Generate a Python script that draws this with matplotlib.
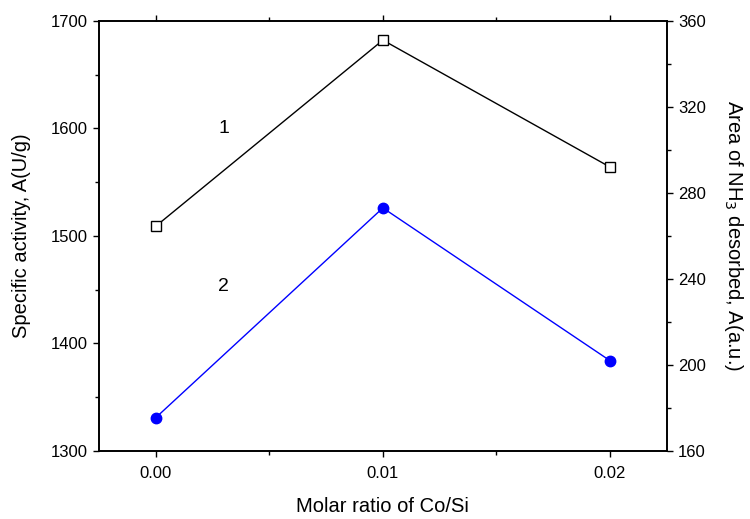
import matplotlib
matplotlib.use("Agg")
import matplotlib.pyplot as plt
from matplotlib.ticker import MultipleLocator

plt.rcParams["font.family"] = ["Liberation Sans", "DejaVu Sans"]

ratio = [0.00, 0.01, 0.02]
activity = [1509, 1682, 1564]
nh3_area = [175.5, 273, 202]

fig = plt.figure(figsize=(7.5, 5.19), dpi=100)
ax = fig.add_axes([0.132, 0.131, 0.757, 0.829])
ax.plot(ratio, activity, color="black", lw=1, marker="s", ms=6.5,
        mfc="white", mec="black", mew=1)
ax.set_xlim(-0.0025, 0.0225)
ax.set_ylim(1300, 1700)
ax.xaxis.set_major_locator(MultipleLocator(0.01))
ax.xaxis.set_minor_locator(MultipleLocator(0.005))
ax.yaxis.set_major_locator(MultipleLocator(100))
ax.yaxis.set_minor_locator(MultipleLocator(50))
ax.xaxis.set_major_formatter(plt.FormatStrFormatter("%.2f"))
ax.tick_params(which="major", direction="out", length=4.5, width=1, labelsize=12)
ax.tick_params(which="minor", direction="out", length=3, width=1)
# tiny ticks along the top edge
ax.tick_params(axis="x", which="both", top=True, bottom=False, length=1.5)
ax.tick_params(axis="x", which="major", bottom=True, length=4.5, pad=6)
ax.tick_params(axis="x", which="minor", bottom=True, length=3)
ax.set_xlabel("Molar ratio of Co/Si", fontsize=14.5, labelpad=12)
ax.set_ylabel("Specific activity, A(U/g)", fontsize=14.5, labelpad=14)

ax.text(0.003, 1600, "1", fontsize=14, ha="center", va="center")
ax.text(0.003, 1453, "2", fontsize=14, ha="center", va="center")

ax2 = ax.twinx()
ax2.plot(ratio, nh3_area, color="blue", lw=1, marker="o", ms=7.5,
         mfc="blue", mec="blue")
ax2.set_ylim(160, 360)
ax2.yaxis.set_major_locator(MultipleLocator(40))
ax2.yaxis.set_minor_locator(MultipleLocator(20))
ax2.tick_params(which="major", direction="out", length=4.5, width=1, labelsize=12)
ax2.tick_params(which="minor", direction="out", length=3, width=1)
ax2.set_ylabel("Area of NH$_3$ desorbed, A(a.u.)", fontsize=14.5,
               rotation=270, va="bottom", labelpad=12)

for a in (ax, ax2):
    for s in a.spines.values():
        s.set_linewidth(1.2)

fig.savefig("out.png", dpi=100)
